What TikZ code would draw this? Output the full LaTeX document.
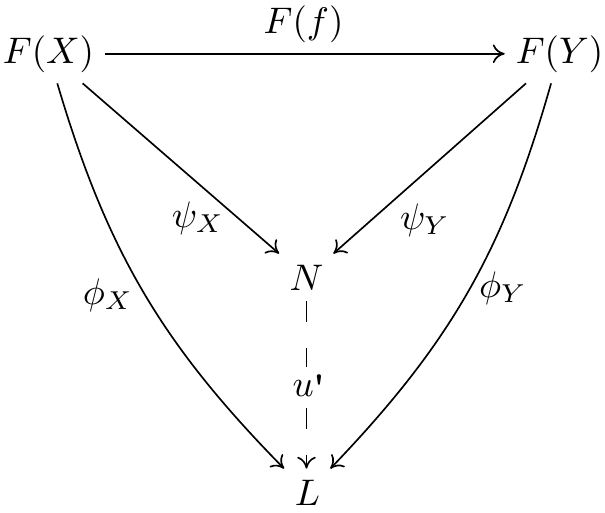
\documentclass[tikz,border=0pt]{standalone}
\usetikzlibrary{arrows.meta}
\begin{document}
\tikzset{
  obj/.style={inner sep=3pt, outer sep=0pt},
  lbl/.style={inner sep=0pt},
  arr/.style={-{To[length=3.2pt, width=5pt]}, line width=0.45pt},
  dsh/.style={line width=0.45pt, dash pattern=on 5.7pt off 7pt},
}
\begin{tikzpicture}[x=0.27027pt, y=0.27027pt]
\useasboundingbox (0,0) rectangle (605,-512);
% objects
\node[obj, anchor=base] (fx) at (48.5,-63) {$F(X)$};
\node[obj, anchor=base] (fy) at (559.5,-63) {$F(Y)$};
\node[obj, anchor=base] (N) at (306.5,-290) {$N$};
\node[obj, anchor=base] (L) at (307.5,-505) {$L$};
% labels
\node[lbl] (ff) at (303.5,-24) {$F(f)$};
\node[lbl] (psix) at (198,-218) {$\psi_X$};
\node[lbl] (psiy) at (425,-220) {$\psi_Y$};
\node[lbl] (phix) at (108,-295) {$\phi_X$};
\node[lbl] (phiy) at (503,-288) {$\phi_Y$};
\node[lbl, minimum height=10.5pt] (u) at (309,-387.5) {$u$\raisebox{-1pt}{\bfseries\textquotesingle}};
% arrows
\draw[arr] (fx) -- (fy);
\draw[arr] (fx) -- (N);
\draw[arr] (fy) -- (N);
\draw[arr] (fx) to[bend right=14] (L);
\draw[arr] (fy) to[bend left=14] (L);
\draw[dsh] (N.south) -- (N.south |- u.north);
\draw[dsh, arr] (N.south |- u.south) -- (N.south |- L.north);
\end{tikzpicture}
\end{document}
